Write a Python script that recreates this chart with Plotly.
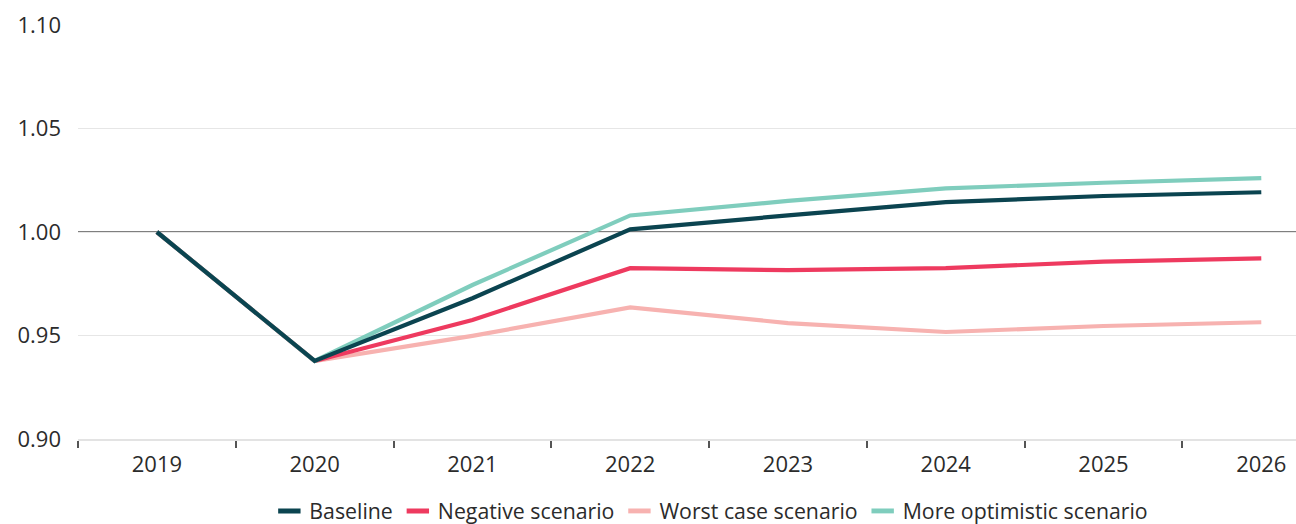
import plotly.graph_objects as go

years = ["2019", "2020", "2021", "2022", "2023", "2024", "2025", "2026"]

baseline = [1.000, 0.9377, 0.968, 1.0013, 1.008, 1.0144, 1.0174, 1.0192]
negative = [1.000, 0.9377, 0.9575, 0.9825, 0.9816, 0.9825, 0.9857, 0.9873]
worst_case = [1.000, 0.9377, 0.9498, 0.9636, 0.956, 0.9517, 0.9546, 0.9564]
optimistic = [1.000, 0.9377, 0.9744, 1.008, 1.015, 1.0211, 1.0238, 1.026]

y_ticks = [0.90, 0.95, 1.00, 1.05, 1.10]
y_tick_text = ["0.90", "0.95", "1.00", "1.05", "1.10"]

series = [
    ("Baseline", baseline, "#0b4450"),
    ("Negative scenario", negative, "#ee3a5f"),
    ("Worst case scenario", worst_case, "#f7b2b0"),
    ("More optimistic scenario", optimistic, "#7fcdbd"),
]

FONT = "Open Sans"
TEXT = "#2b2b2b"

fig = go.Figure()

# draw order: baseline on top
draw_order = [series[2], series[1], series[3], series[0]]
for name, vals, color in draw_order:
    fig.add_trace(go.Scatter(
        x=years, y=vals, mode="lines", name=name,
        line=dict(color=color, width=4.2), showlegend=False,
    ))

# compact legend swatches
for name, vals, color in series:
    fig.add_trace(go.Scatter(
        x=[None], y=[None], mode="markers", name=name,
        marker=dict(symbol="line-ew", size=16, color=color,
                    line=dict(color=color, width=5)),
        showlegend=True,
    ))

# reference line at 1.00 across the full plot width
fig.add_shape(
    type="line", xref="paper", x0=0, x1=1, yref="y", y0=1.0, y1=1.0,
    line=dict(color="#555555", width=1.3), layer="below",
)

fig.update_layout(
    width=1296, height=524,
    margin=dict(l=78, r=0, t=25, b=85, autoexpand=False),
    paper_bgcolor="white", plot_bgcolor="white",
    font=dict(family=FONT, size=22, color=TEXT),
    legend=dict(
        orientation="h", x=0.52, xanchor="center", y=-0.174, yanchor="middle",
        font=dict(family=FONT, size=21.3, color=TEXT),
        itemwidth=30, tracegroupgap=0,
    ),
    xaxis=dict(
        type="category", range=[-0.5, 7.22],
        tickson="boundaries", ticks="outside", ticklen=7, tickwidth=1.5,
        tickcolor="#555555",
        showline=True, linecolor="#e3e3e3", linewidth=2,
        showgrid=False, zeroline=False,
        ticklabelstandoff=5,
        tickfont=dict(family=FONT, size=22, color=TEXT),
    ),
    yaxis=dict(
        range=[0.9, 1.1], tickvals=y_ticks, ticktext=y_tick_text,
        showgrid=True, gridcolor="#e6e6e6", gridwidth=1,
        zeroline=False, showline=False, ticks="",
        ticklabelstandoff=16,
        tickfont=dict(family=FONT, size=22, color=TEXT),
    ),
)

fig.write_html("out.html")
